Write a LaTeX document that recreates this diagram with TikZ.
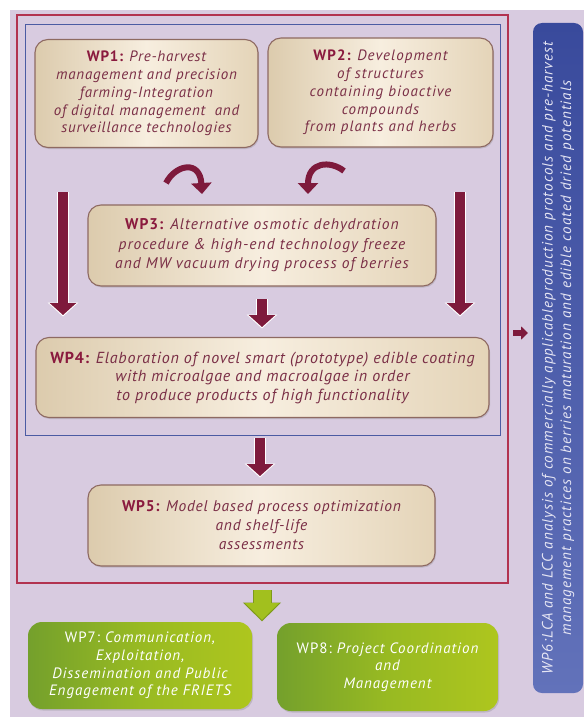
\documentclass[tikz,border=0pt]{standalone}
\usepackage{fontspec}
\setmainfont{PT Sans}
\usetikzlibrary{arrows.meta,shadows,calc}
\definecolor{bg}{HTML}{D8CBE0}
\definecolor{maroon}{HTML}{7E1A3C}
\definecolor{txt}{HTML}{7A2E46}
\definecolor{lbl}{HTML}{8A1A3E}
\definecolor{redline}{HTML}{B23350}
\definecolor{blueline}{HTML}{4B5BA3}
\definecolor{creamL}{HTML}{DCCBAD}
\definecolor{creamM}{HTML}{F7EEDF}
\definecolor{creamR}{HTML}{E4D4B8}
\definecolor{boxline}{HTML}{8E6A62}
\definecolor{lime}{HTML}{A2C01E}
\definecolor{limedark}{HTML}{7E9A1A}
\definecolor{greenL}{HTML}{74A02C}
\definecolor{greenM}{HTML}{98BA22}
\definecolor{greenR}{HTML}{AEC61E}
\definecolor{blueL}{HTML}{394A9C}
\definecolor{blueR}{HTML}{6272BA}
\definecolor{wptext}{HTML}{E6E6F4}
\newcommand{\wpfont}[3]{\fontsize{#1}{#2}\selectfont\itshape\addfontfeature{LetterSpace=#3}}
\tikzset{
  wpbox/.style={rounded corners=13pt, draw=boxline, line width=1.1pt,
    left color=creamL, right color=creamR, middle color=creamM,
    drop shadow={opacity=0.3, shadow xshift=1pt, shadow yshift=-1.5pt},
    text=txt, align=center, inner sep=0pt},
  greenbox/.style={rounded corners=14pt, draw=none,
    left color=greenL, right color=greenR, middle color=greenM,
    drop shadow={opacity=0.3, shadow xshift=1pt, shadow yshift=-1.5pt},
    text=white, align=center, inner sep=0pt},
  bluebox/.style={rounded corners=9pt, draw=none,
    top color=blueL, bottom color=blueR,
    text=wptext, align=center, inner sep=0pt,
    font=\wpfont{15}{18.5}{7}},
  bigarrow/.style={draw=maroon, line width=10pt,
    -{Triangle[length=12pt,width=26pt]},
    preaction={draw=white, line width=12pt, shorten >=-1.5pt,
      -{Triangle[length=14pt,width=30pt]}}},
  curvearrow/.style={draw=maroon, line width=6pt,
    -{Triangle[length=11pt,width=20pt]}},
  greenarrow/.style={draw=lime, line width=17pt,
    -{Triangle[length=17pt,width=33pt]},
    preaction={draw=limedark, line width=19pt, shorten >=-1.5pt,
      -{Triangle[length=19pt,width=37pt]}}},
  smallarrow/.style={draw=maroon, line width=6pt,
    -{Triangle[length=7pt,width=13pt]}}
}
\newcommand{\wpl}[1]{{\upshape\bfseries\color{lbl}#1}}
\begin{document}
\begin{tikzpicture}[x=1pt,y=-1pt]
\useasboundingbox (0,0) rectangle (584,717);
\fill[white] (0,0) rectangle (584,717);
\fill[bg] (10,10) rectangle (584,717);

\draw[redline, line width=1.1pt] (17,15) rectangle (508,583);
\draw[blueline, line width=1pt] (25,25) rectangle (500,435);

\node[wpbox, minimum width=223pt, minimum height=108pt, font=\wpfont{15}{17.8}{5}] (wp1) at (146.5,93.5)
  {\wpl{WP1:} Pre-harvest\\management and precision\\farming-Integration\\of digital management\ \ and\\surveillance technologies};
\node[wpbox, minimum width=225pt, minimum height=109pt, font=\wpfont{15}{17.8}{7}] (wp2) at (380.5,92.5)
  {\wpl{WP2:} Development\\of structures\\containing bioactive\\compounds\\from plants and herbs};
\node[wpbox, minimum width=348pt, minimum height=81pt, font=\wpfont{15.5}{19.5}{6.5}] (wp3) at (262,245.5)
  {\wpl{WP3:} Alternative osmotic dehydration\\procedure \& high-end technology\ freeze\\and MW vacuum drying process of berries};
\node[wpbox, minimum width=453pt, minimum height=80pt, font=\wpfont{16}{18.5}{5}] (wp4) at (262.5,377.5)
  {\wpl{WP4:} Elaboration of novel smart (prototype) edible coating\\with microalgae\ and macroalgae in order\\to produce products of high functionality};
\node[wpbox, minimum width=347pt, minimum height=81pt, font=\wpfont{15.5}{19}{5}] (wp5) at (261.5,525.5)
  {\wpl{WP5:} Model based process\ optimization\\and shelf-life\\assessments};

\node[greenbox, minimum width=224pt, minimum height=87pt, font=\wpfont{15}{17.7}{6.5}] (wp7) at (140,665.5)
  {{\upshape WP7:}\ Communication,\\Exploitation,\\Dissemination and Public\\Engagement of the FRIETS};
\node[greenbox, minimum width=221pt, minimum height=88pt, font=\wpfont{15}{17.7}{6.5}] (wp8) at (387.5,667)
  {{\upshape WP8:}\ Project Coordination\\and\\Management};

\node[bluebox, rotate=90, minimum width=670pt, minimum height=50pt] (wp6) at (558,358)
  {WP6:LCA and LCC analysis of commercially applicableproduction\ protocols and pre-harvest\\management practices on berries maturation and edible coated dried potentials};

% arrows
\coordinate (la) at (63,192);  \coordinate (lb) at (63,315);
\coordinate (ra) at (460,192); \coordinate (rb) at (460,315);
\coordinate (m1) at (262,299); \coordinate (m2) at (262,327);
\coordinate (m3) at (260,438); \coordinate (m4) at (260,476);
\coordinate (g1) at (262,590); \coordinate (g2) at (262,620);
\coordinate (s1) at (513,333); \coordinate (s2) at (528,333);
\coordinate (c1a) at (166,183); \coordinate (c1b) at (202,194);
\coordinate (c2a) at (344,171); \coordinate (c2b) at (308,194);

\draw[bigarrow] (la) -- (lb);
\draw[bigarrow] (ra) -- (rb);
\draw[bigarrow] (m1) -- (m2);
\draw[bigarrow] (m3) -- (m4);
\draw[greenarrow] (g1) -- (g2);
\draw[smallarrow] (s1) -- (s2);
\draw[curvearrow] (c1a) .. controls (176,164) and (200,160) .. (c1b);
\draw[curvearrow] (c2a) .. controls (330,160) and (308,162) .. (c2b);
\end{tikzpicture}
\end{document}
